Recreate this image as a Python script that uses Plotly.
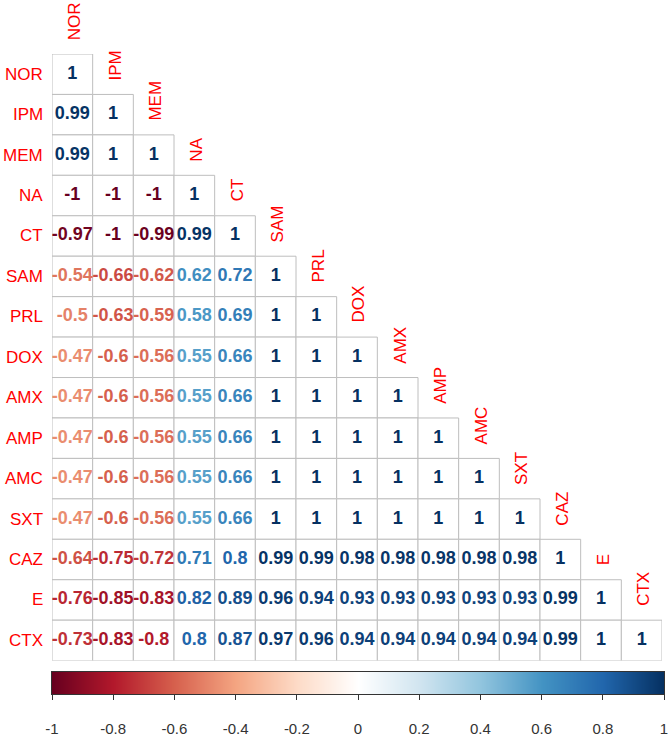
import plotly.graph_objects as go
from plotly.colors import sample_colorscale

# variables (same order for rows and columns)
labels = ['NOR', 'IPM', 'MEM', 'NA', 'CT', 'SAM', 'PRL', 'DOX',
          'AMX', 'AMP', 'AMC', 'SXT', 'CAZ', 'E', 'CTX']

# lower triangle of the correlation matrix, row by row
corr_rows = [
    [1],
    [0.99, 1],
    [0.99, 1, 1],
    [-1, -1, -1, 1],
    [-0.97, -1, -0.99, 0.99, 1],
    [-0.54, -0.66, -0.62, 0.62, 0.72, 1],
    [-0.5, -0.63, -0.59, 0.58, 0.69, 1, 1],
    [-0.47, -0.6, -0.56, 0.55, 0.66, 1, 1, 1],
    [-0.47, -0.6, -0.56, 0.55, 0.66, 1, 1, 1, 1],
    [-0.47, -0.6, -0.56, 0.55, 0.66, 1, 1, 1, 1, 1],
    [-0.47, -0.6, -0.56, 0.55, 0.66, 1, 1, 1, 1, 1, 1],
    [-0.47, -0.6, -0.56, 0.55, 0.66, 1, 1, 1, 1, 1, 1, 1],
    [-0.64, -0.75, -0.72, 0.71, 0.8, 0.99, 0.99, 0.98, 0.98, 0.98, 0.98, 0.98, 1],
    [-0.76, -0.85, -0.83, 0.82, 0.89, 0.96, 0.94, 0.93, 0.93, 0.93, 0.93, 0.93, 0.99, 1],
    [-0.73, -0.83, -0.8, 0.8, 0.87, 0.97, 0.96, 0.94, 0.94, 0.94, 0.94, 0.94, 0.99, 1, 1],
]

cbar_ticks = [-1, -0.8, -0.6, -0.4, -0.2, 0, 0.2, 0.4, 0.6, 0.8, 1]

# corrplot RdBu palette
rdbu = ['#67001F', '#B2182B', '#D6604D', '#F4A582', '#FDDBC7', '#FFFFFF',
        '#D1E5F0', '#92C5DE', '#4393C3', '#2166AC', '#053061']
cscale = [[i / (len(rdbu) - 1), c] for i, c in enumerate(rdbu)]

FONT = 'Liberation Sans, Arial'

#%% flatten the triangle
xs, ys, vals, txt = [], [], [], []
for i, row in enumerate(corr_rows):
    for j, v in enumerate(row):
        xs.append(j)
        ys.append(i)
        vals.append(v)
        txt.append(f'{v:g}')

txt_colors = sample_colorscale(cscale, [(v + 1) / 2 for v in vals])

fig = go.Figure()

# white cells with grey grid
for i, row in enumerate(corr_rows):
    for j in range(len(row)):
        fig.add_shape(type='rect', xref='x', yref='y',
                      x0=j - 0.5, x1=j + 0.5, y0=i - 0.5, y1=i + 0.5,
                      line=dict(color='#BEBEBE', width=1),
                      fillcolor='white', layer='below')

fig.add_trace(go.Scatter(
    x=xs, y=ys, mode='text', text=txt,
    textfont=dict(family=FONT, size=18, color=txt_colors, weight='bold'),
    hoverinfo='skip', showlegend=False))

# colour legend drawn as a smoothed one-row heatmap
fig.add_trace(go.Heatmap(
    z=[cbar_ticks], x=cbar_ticks, y=[0], colorscale=cscale,
    zmin=-1, zmax=1, zsmooth='best', showscale=False, hoverinfo='skip',
    xaxis='x2', yaxis='y2'))

# row and column labels
for i, lab in enumerate(labels):
    fig.add_annotation(x=-0.5, y=i, xref='x', yref='y', text=lab,
                       showarrow=False, xanchor='right', xshift=-7,
                       font=dict(family=FONT, size=17, color='#FF0000'))
    fig.add_annotation(x=i, y=i - 0.5, xref='x', yref='y', text=lab,
                       showarrow=False, textangle=-90, yanchor='bottom',
                       yshift=12, xshift=2,
                       font=dict(family=FONT, size=17, color='#FF0000'))

W, HT = 668, 737
H = HT - 54
fig.update_layout(
    width=W, height=HT,
    margin=dict(l=52, r=2, t=54, b=0),
    plot_bgcolor='white', paper_bgcolor='white',
    xaxis=dict(range=[-0.5, 14.5], visible=False, domain=[0, 612 / 614]),
    yaxis=dict(range=[14.5, -0.5], visible=False, domain=[71 / H, 1]),
    xaxis2=dict(range=[-1, 1], domain=[0, 1], anchor='y2',
                showline=True, mirror=True, linecolor='#333', linewidth=1,
                showgrid=False, zeroline=False,
                ticks='outside', ticklen=5, tickcolor='#333', tickwidth=1,
                tickvals=cbar_ticks, ticktext=[f'{t:g}' for t in cbar_ticks],
                ticklabelstandoff=16, ticklabeloverflow='allow',
                tickfont=dict(family=FONT, size=15, color='#333')),
    yaxis2=dict(range=[-0.5, 0.5], domain=[37 / H, 60 / H], anchor='x2',
                showline=True, mirror=True, linecolor='#333', linewidth=1,
                showgrid=False, zeroline=False, showticklabels=False,
                ticks=''),
)

# drop the page's default 8px body margin and clip anything that
# spills past the figure edge so the page stays exactly window sized
post = ("document.body.style.margin='0';"
        "var gd=document.getElementById('{plot_id}');"
        "gd.style.overflow='hidden';"
        "document.querySelectorAll('.main-svg').forEach(function(s){"
        "s.style.overflow='hidden';});")
fig.write_html('out.html', config={'displayModeBar': False}, post_script=post)
